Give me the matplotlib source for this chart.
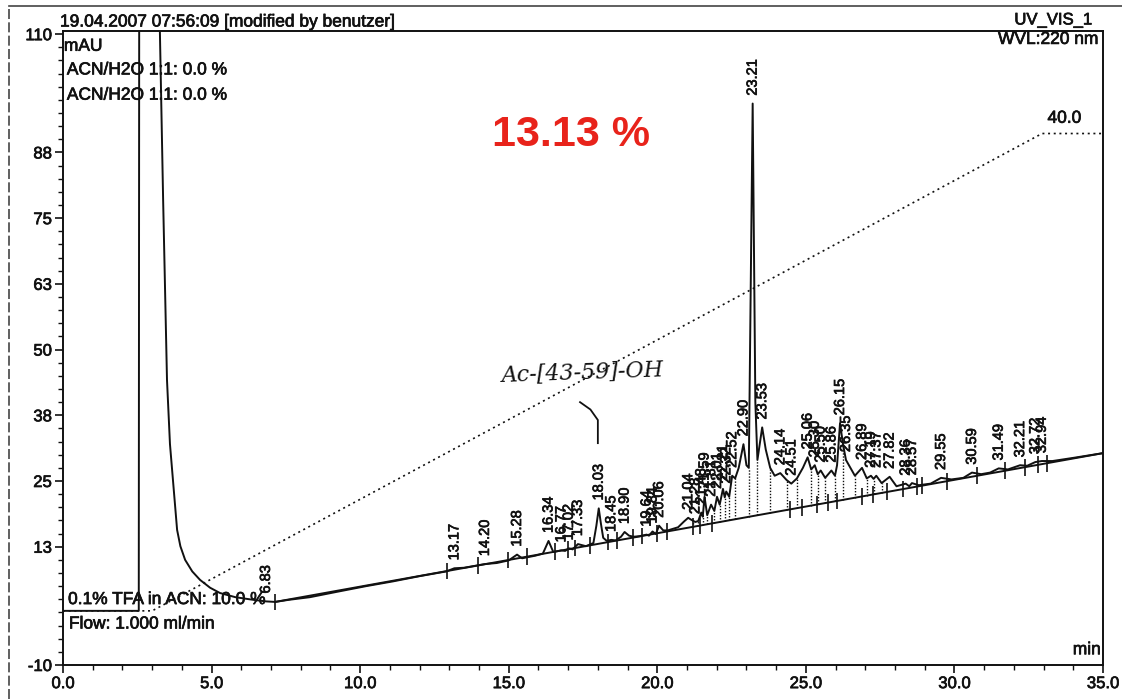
import numpy as np
import matplotlib
matplotlib.use("Agg")
import matplotlib.pyplot as plt
from matplotlib.lines import Line2D
from matplotlib.ticker import FixedLocator, MultipleLocator
import matplotlib.patheffects as pe

plt.rcParams['font.family'] = ['Liberation Sans', 'DejaVu Sans']

# ---------------- data ----------------
trace_t = [0.0, 2.55, 2.57, 3.22, 3.26, 3.37, 3.50, 3.60, 3.70, 3.84, 3.95, 4.11, 4.35, 4.61,
           4.95, 5.28, 5.8, 6.40, 6.83, 7.14, 7.6, 8.31, 9.2, 10.2, 11.1, 12.0, 12.9, 13.17,
           13.5, 14.20, 14.6, 15.0, 15.28, 15.45, 15.9, 16.15, 16.34, 16.5, 16.77, 16.9, 17.02,
           17.15, 17.33, 17.6, 17.85, 17.95, 18.03, 18.10, 18.18, 18.30, 18.45, 18.6, 18.78,
           18.90, 19.05, 19.2, 19.40, 19.64, 19.72, 19.84, 19.95, 20.06, 20.2, 20.35, 20.7,
           20.9, 21.04, 21.15, 21.28, 21.38, 21.48, 21.53, 21.59, 21.68, 21.81, 21.92, 22.01,
           22.10, 22.21, 22.27, 22.32, 22.42, 22.52, 22.62, 22.74, 22.90, 23.00, 23.08, 23.21,
           23.30, 23.37, 23.53, 23.65, 23.80, 23.95, 24.14, 24.35, 24.51, 24.70, 24.90, 25.06,
           25.18, 25.30, 25.40, 25.50, 25.65, 25.86, 25.98, 26.05, 26.15, 26.25, 26.35, 26.5,
           26.65, 26.89, 27.05, 27.19, 27.28, 27.37, 27.55, 27.82, 28.05, 28.36, 28.48, 28.57,
           28.8, 29.2, 29.55, 29.9, 30.3, 30.59, 30.9, 31.2, 31.49, 31.8, 32.21, 32.45, 32.72,
           32.94, 33.3, 34.0, 35.0]
trace_v = [0.3, 0.3, 160, 160, 110.7, 78.4, 44.2, 32.0, 25.2, 15.7, 12.6, 10.0, 7.8, 6.2,
           4.7, 3.7, 2.9, 2.4, 2.1, 2.0, 2.4, 2.9, 3.9, 5.0, 5.9, 6.9, 7.8, 8.4,
           8.5, 9.2, 9.4, 9.9, 11.0, 10.3, 10.8, 11.2, 13.6, 11.5, 11.8, 11.7, 12.2,
           12.0, 13.0, 12.6, 13.2, 16.5, 19.8, 17.0, 14.2, 13.6, 13.8, 13.7, 14.4,
           15.3, 14.6, 14.4, 14.5, 14.8, 14.6, 15.4, 14.9, 16.5, 15.6, 15.6, 16.2,
           17.3, 18.0, 17.6, 17.2, 17.4, 19.0, 18.2, 22.0, 18.5, 20.5, 19.3, 22.0,
           20.5, 23.5, 21.9, 23.0, 22.0, 26.0, 25.5, 27.5, 32.0, 28.0, 27.5, 96.8,
           40.0, 29.0, 35.2, 31.0, 27.5, 26.0, 26.5, 25.2, 24.5, 25.5, 27.5, 29.5,
           27.2, 28.0, 26.3, 27.0, 25.6, 27.0, 26.0, 28.0, 36.0, 32.0, 29.0, 27.5,
           26.0, 27.5, 25.5, 26.0, 25.4, 26.0, 24.6, 25.8, 24.0, 24.5, 24.0, 24.6,
           24.2, 24.5, 25.6, 25.3, 25.6, 26.6, 26.3, 26.6, 27.4, 27.2, 28.0, 27.9, 28.6,
           28.8, 28.8, 29.4, 30.3]

# labelled peaks: retention time and apex height (mAU)
peak_rt = [6.83, 13.17, 14.20, 15.28, 16.34, 16.77, 17.02, 17.33, 18.03, 18.45, 18.90, 19.64,
           19.84, 20.06, 21.04, 21.28, 21.48, 21.59, 21.81, 22.01, 22.21, 22.32, 22.52, 22.90,
           23.21, 23.53, 24.14, 24.51, 25.06, 25.30, 25.50, 25.86, 26.15, 26.35, 26.89, 27.19,
           27.37, 27.82, 28.36, 28.57, 29.55, 30.59, 31.49, 32.21, 32.72, 32.94]
peak_h = [2.1, 8.4, 9.2, 11.0, 13.6, 11.8, 12.2, 13.0, 19.8, 13.8, 15.3, 14.8,
          15.4, 16.5, 18.0, 17.2, 19.0, 22.0, 20.5, 22.0, 23.5, 23.0, 26.0, 32.0,
          96.8, 35.2, 26.5, 24.5, 29.5, 28.0, 27.0, 27.0, 36.0, 29.0, 27.5, 26.0,
          26.0, 25.8, 24.5, 24.6, 25.6, 26.6, 27.4, 28.0, 28.6, 28.8]
peak_lbl = ["6.83", "13.17", "14.20", "15.28", "16.34", "16.77", "17.02", "17.33", "18.03",
            "18.45", "18.90", "19.64", "19.84", "20.06", "21.04", "21.28", "21.48", "21.59",
            "21.81", "22.01", "22.21", "22.32", "22.52", "22.90", "23.21", "23.53", "24.14",
            "24.51", "25.06", "25.30", "25.50", "25.86", "26.15", "26.35", "26.89", "27.19",
            "27.37", "27.82", "28.36", "28.57", "29.55", "30.59", "31.49", "32.21", "32.72",
            "32.94"]

# integration baseline (start / end)
base_t = [7.14, 35.0]
base_v = [2.0, 30.3]
# peak delimiter marks on the baseline
delim_t = [7.14, 12.92, 13.97, 14.98, 15.6, 16.56, 17.0, 17.23, 17.74, 18.35, 18.64, 19.19,
           19.49, 19.99, 20.33, 21.2, 21.44, 21.84, 24.47, 24.87, 25.38, 25.75, 26.05, 26.9,
           27.26, 27.74, 28.27, 28.74, 28.91, 29.75, 30.76, 31.7, 32.38, 32.82, 33.12]
# drop lines between unresolved peaks
drop_t = [21.2, 21.38, 21.53, 21.68, 21.92, 22.10, 22.27, 22.42, 22.62, 23.08, 23.37, 23.80,
          24.35, 24.70, 25.18, 25.40, 25.65, 25.98, 26.25, 26.65, 27.05, 27.28, 27.55]

# gradient program (% ACN scaled to the mAU axis)
grad_t = [0.0, 3.0, 32.95, 35.0]
grad_v = [0.3, 0.3, 91.1, 91.1]

y_ticks = [-10, 12.5, 25, 37.5, 50, 62.5, 75, 87.5, 110]
y_tick_lbl = ["-10", "13", "25", "38", "50", "63", "75", "88", "110"]
x_ticks = [0, 5, 10, 15, 20, 25, 30, 35]
x_tick_lbl = ["0.0", "5.0", "10.0", "15.0", "20.0", "25.0", "30.0", "35.0"]

# ---------------- figure ----------------
W, H = 1122, 699
fig = plt.figure(figsize=(W / 100, H / 100), dpi=100)
ax = fig.add_axes([63 / W, 1 - 665 / H, (1103 - 63) / W, (665 - 31) / H])
ax.set_xlim(0, 35)
ax.set_ylim(-10, 110.6)

ink = '#111111'
thick = [pe.withStroke(linewidth=0.5, foreground=ink)]
for s in ax.spines.values():
    s.set_color(ink)
    s.set_linewidth(1.4)

ax.plot(grad_t, grad_v, color=ink, lw=1.2, linestyle=(0, (1.2, 2.2)))
ax.plot(base_t, base_v, color=ink, lw=1.4)
ax.plot(trace_t, trace_v, color=ink, lw=1.4, solid_joinstyle='round')

bv = np.interp(delim_t, base_t, base_v)
ax.vlines(delim_t, bv - 1.6, bv + 1.6, color=ink, lw=1.2)
top = np.interp(drop_t, trace_t, trace_v)
bot = np.interp(drop_t, base_t, base_v)
ax.vlines(drop_t, bot, top, color=ink, lw=1.0, linestyles=(0, (1.0, 1.2)))

for rt, h, lab in zip(peak_rt, peak_h, peak_lbl):
    ax.text(rt, h + 1.5, lab, rotation=90, ha='center', va='bottom', fontsize=10.5,
            color=ink, path_effects=thick)

ax.xaxis.set_major_locator(FixedLocator(x_ticks))
ax.set_xticklabels(x_tick_lbl)
ax.xaxis.set_minor_locator(MultipleLocator(1))
ax.yaxis.set_major_locator(FixedLocator(y_ticks))
ax.set_yticklabels(y_tick_lbl)
ax.yaxis.set_minor_locator(MultipleLocator(2.5))
ax.tick_params(which='major', direction='out', length=6, width=1.2, labelsize=12, color=ink,
               labelcolor=ink, pad=2)
ax.tick_params(which='minor', direction='out', length=3.5, width=1.0, color=ink)
for lab in ax.get_xticklabels() + ax.get_yticklabels():
    lab.set_path_effects(thick)

# annotations inside the plot
fs = 12.5
kw = dict(fontsize=fs, color=ink, path_effects=thick, va='center')
ax.text(0.03, 107.7, 'mAU', ha='left', **kw)
ax.text(0.13, 103.2, 'ACN/H2O 1:1: 0.0 %', ha='left', **kw)
ax.text(0.13, 98.4, 'ACN/H2O 1:1: 0.0 %', ha='left', **kw)
ax.text(34.85, 109.0, 'WVL:220 nm', ha='right', **kw)
ax.text(33.7, 94.0, '40.0', ha='center', **kw)
ax.text(0.17, 2.45, '0.1% TFA in ACN: 10.0 %', ha='left', **kw)
ax.text(0.2, -2.2, 'Flow: 1.000 ml/min', ha='left', **kw)
ax.text(34.93, -7.1, 'min', ha='right', **kw)
ax.text(17.1, 90.8, '13.13 %', ha='center', va='center', fontsize=31, fontweight='bold',
        color='#e8231b')

# handwritten note
ax.text(17.47, 45.5, 'Ac-[43-59]-OH', ha='center', va='center', fontsize=16,
        family='DejaVu Serif', style='italic', color=ink, rotation=2)
note_t = [17.4, 17.75, 18.0, 18.0]
note_v = [40.0, 38.6, 36.6, 32.2]
ax.plot(note_t, note_v, color=ink, lw=1.3)

# header texts and scan frame
fig.text(60 / W, 1 - 22 / H, '19.04.2007 07:56:09 [modified by benutzer]', ha='left',
         va='center', fontsize=12.5, color=ink, path_effects=thick)
fig.text(1092 / W, 1 - 20 / H, 'UV_VIS_1', ha='right', va='center', fontsize=12,
         color=ink, path_effects=thick)
fig.add_artist(Line2D([9 / W, 1.0], [1 - 6 / H, 1 - 6 / H], transform=fig.transFigure,
                      color='#444444', lw=1.2))
fig.add_artist(Line2D([9 / W, 9 / W], [0, 1 - 6 / H], transform=fig.transFigure,
                      color='#444444', lw=1.2, linestyle=(0, (6, 2))))

fig.savefig('out.png', dpi=100)
